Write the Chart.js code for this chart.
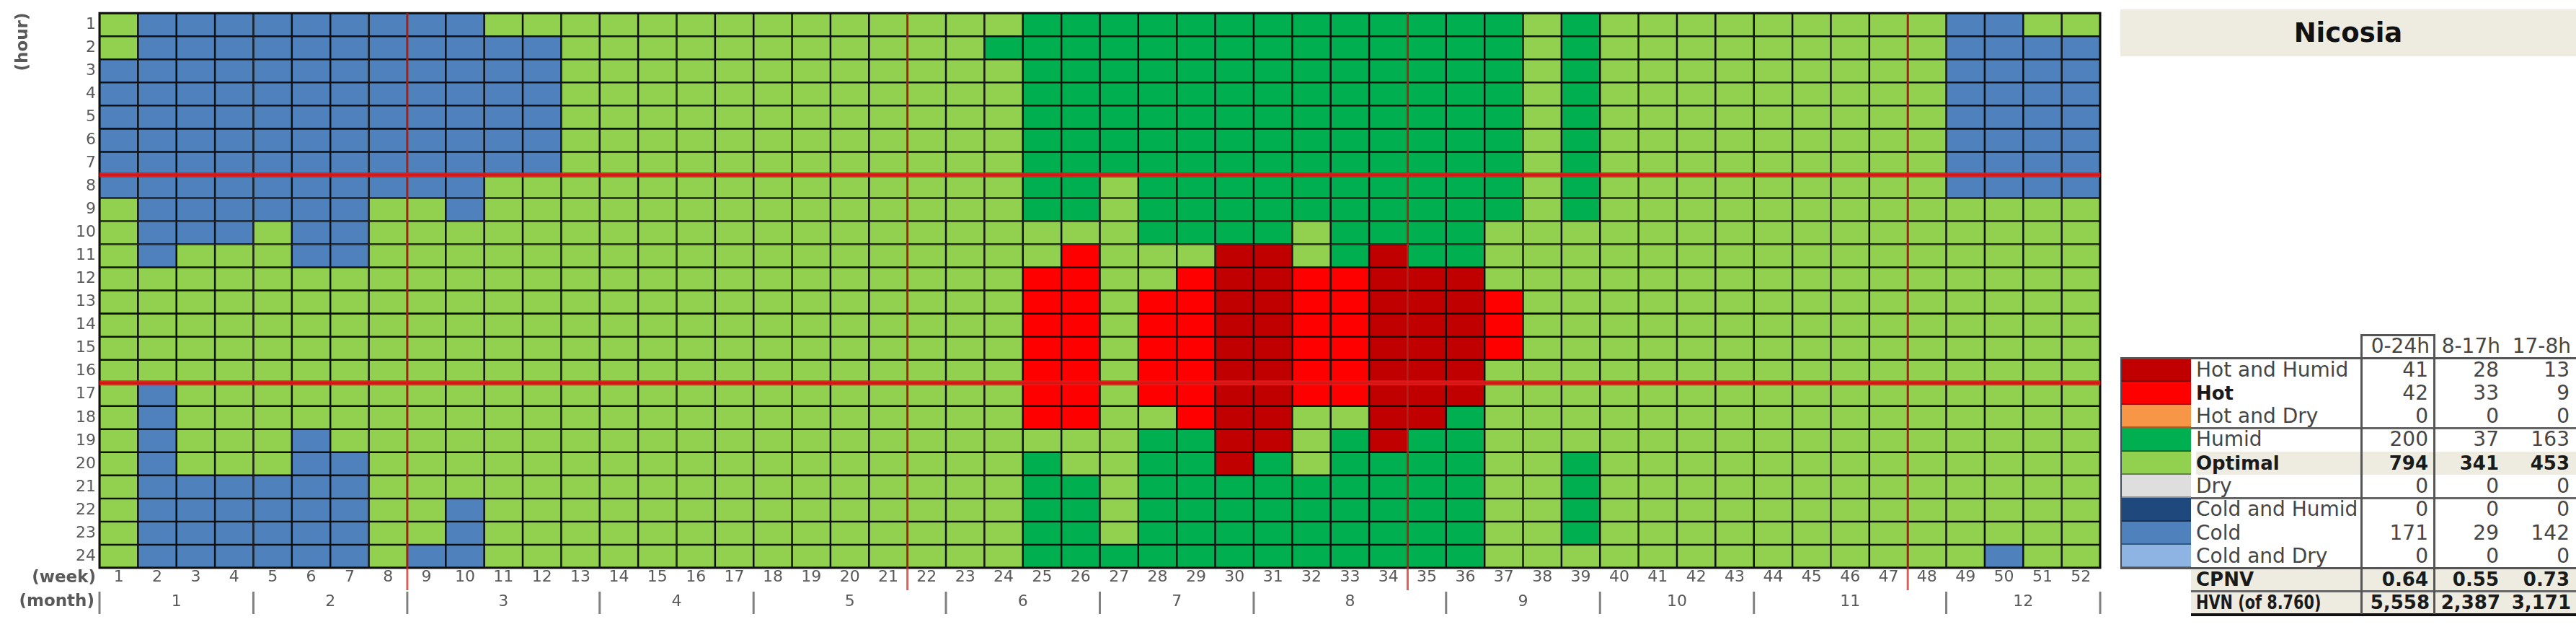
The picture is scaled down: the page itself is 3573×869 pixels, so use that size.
<!DOCTYPE html>
<html>
<head>
<meta charset="utf-8">
<script src="https://cdn.jsdelivr.net/npm/chart.js@4.4.1/dist/chart.umd.min.js"></script>
<style>
  html, body { margin: 0; padding: 0; background: #fff; }
  body { width: 3573px; height: 869px; position: relative; overflow: hidden; font-family: "DejaVu Sans", sans-serif; }
  #chart { position: absolute; left: 0; top: 0; }
  .abs { position: absolute; box-sizing: border-box; }
  .txt { white-space: nowrap; font-size: 28px; color: #454545; }
  .num { text-align: right; }
  .b { font-weight: bold; color: #1a1a1a; font-size: 26px; }
</style>
</head>
<body>
<canvas id="chart" width="2935" height="869"></canvas>
<div id="panel"></div>
<script>
// ---- data ----
const weeks = ['1','2','3','4','5','6','7','8','9','10','11','12','13','14','15','16','17','18','19','20',
  '21','22','23','24','25','26','27','28','29','30','31','32','33','34','35','36','37','38','39','40',
  '41','42','43','44','45','46','47','48','49','50','51','52'];
const hours = ['1','2','3','4','5','6','7','8','9','10','11','12','13','14','15','16','17','18','19','20','21','22','23','24'];
const months = ['1','2','3','4','5','6','7','8','9','10','11','12'];
// week index where each month starts (last entry = end of year)
const monthStarts = [0, 4, 8, 13, 17, 22, 26, 30, 35, 39, 43, 48, 52];
// red vertical markers (week boundaries) and horizontal markers (hour boundaries)
const weekMarks = [8, 21, 34, 47];
const hourMarks = [7, 16];

// one string per week, hours 1..24 (spaces only for reading)
// X hot+humid, H hot, R hot+dry, U humid, O optimal, D dry, K cold+humid, C cold, L cold+dry
const weekCells = [
  'OOCCCCCC OOOOOOOO OOOOOOOO', // 1
  'CCCCCCCC CCCOOOOO CCCCCCCC',
  'CCCCCCCC CCOOOOOO OOOOCCCC',
  'CCCCCCCC CCOOOOOO OOOOCCCC',
  'CCCCCCCC COOOOOOO OOOOCCCC', // 5
  'CCCCCCCC CCCOOOOO OOCCCCCC',
  'CCCCCCCC CCCOOOOO OOOCCCCC',
  'CCCCCCCC OOOOOOOO OOOOOOOO',
  'CCCCCCCC OOOOOOOO OOOOOOOC',
  'CCCCCCCC COOOOOOO OOOOOCCC', // 10
  'OCCCCCCO OOOOOOOO OOOOOOOO',
  'OCCCCCCO OOOOOOOO OOOOOOOO',
  'OOOOOOOO OOOOOOOO OOOOOOOO',
  'OOOOOOOO OOOOOOOO OOOOOOOO',
  'OOOOOOOO OOOOOOOO OOOOOOOO', // 15
  'OOOOOOOO OOOOOOOO OOOOOOOO',
  'OOOOOOOO OOOOOOOO OOOOOOOO',
  'OOOOOOOO OOOOOOOO OOOOOOOO',
  'OOOOOOOO OOOOOOOO OOOOOOOO',
  'OOOOOOOO OOOOOOOO OOOOOOOO', // 20
  'OOOOOOOO OOOOOOOO OOOOOOOO',
  'OOOOOOOO OOOOOOOO OOOOOOOO',
  'OOOOOOOO OOOOOOOO OOOOOOOO',
  'OUOOOOOO OOOOOOOO OOOOOOOO',
  'UUUUUUUU UOOHHHHH HHOUUUUU', // 25
  'UUUUUUUU UOHHHHHH HHOOUUUU',
  'UUUUUUUO OOOOOOOO OOOOOOOU',
  'UUUUUUUU UUOOHHHH HOUUUUUU',
  'UUUUUUUU UUOHHHHH HHUUUUUU',
  'UUUUUUUU UUXXXXXX XXXXUUUU', // 30
  'UUUUUUUU UUXXXXXX XXXUUUUU',
  'UUUUUUUU UOOHHHHH HOOOUUUU',
  'UUUUUUUU UUUHHHHH HOUUUUUU',
  'UUUUUUUU UUXXXXXX XXXUUUUU',
  'UUUUUUUU UUUXXXXX XXUUUUUU', // 35
  'UUUUUUUU UUUXXXXX XUUUUUUU',
  'UUUUUUUU UOOOHHHO OOOOOOOO',
  'OOOOOOOO OOOOOOOO OOOOOOOO',
  'UUUUUUUU UOOOOOOO OOOUUUUO',
  'OOOOOOOO OOOOOOOO OOOOOOOO', // 40
  'OOOOOOOO OOOOOOOO OOOOOOOO',
  'OOOOOOOO OOOOOOOO OOOOOOOO',
  'OOOOOOOO OOOOOOOO OOOOOOOO',
  'OOOOOOOO OOOOOOOO OOOOOOOO',
  'OOOOOOOO OOOOOOOO OOOOOOOO', // 45
  'OOOOOOOO OOOOOOOO OOOOOOOO',
  'OOOOOOOO OOOOOOOO OOOOOOOO',
  'OOOOOOOO OOOOOOOO OOOOOOOO',
  'CCCCCCCC OOOOOOOO OOOOOOOO',
  'CCCCCCCC OOOOOOOO OOOOOOOC', // 50
  'OCCCCCCC OOOOOOOO OOOOOOOO',
  'OCCCCCCC OOOOOOOO OOOOOOOO'
].map(s => s.replace(/ /g, ''));

// legend / summary table
const catCodes  = ['X', 'H', 'R', 'U', 'O', 'D', 'K', 'C', 'L'];
const catNames  = ['Hot and Humid', 'Hot', 'Hot and Dry', 'Humid', 'Optimal', 'Dry', 'Cold and Humid', 'Cold', 'Cold and Dry'];
const catColors = ['#C00000', '#FF0000', '#F79646', '#00B050', '#92D050', '#DEDEDE', '#1F497D', '#4F81BD', '#8DB4E2'];
const boldCats  = ['Hot', 'Optimal'];
const colHeads  = ['0-24h', '8-17h', '17-8h'];
const hours0to24 = [41, 42, 0, 200, 794, 0, 0, 171, 0];
const hours8to17 = [28, 33, 0, 37, 341, 0, 0, 29, 0];
const hours17to8 = [13, 9, 0, 163, 453, 0, 0, 142, 0];
const cpnv = ['0.64', '0.55', '0.73'];
const hvn  = ['5,558', '2,387', '3,171'];
const city = 'Nicosia';

const colorOf = {};
catCodes.forEach((c, i) => colorOf[c] = catColors[i]);

const FONT = '"DejaVu Sans", sans-serif';
const GREY = '#595959';

// one stacked dataset per hour, every week gets one cell
const datasets = hours.map((h, hi) => ({
  label: 'hour ' + h,
  data: weeks.map(() => 1),
  backgroundColor: weekCells.map(col => colorOf[col[hi]]),
  borderColor: '#111',
  borderWidth: 1.6,
  borderSkipped: false,
  barPercentage: 1,
  categoryPercentage: 1,
  stack: 'hours'
}));

const overlay = {
  id: 'overlay',
  afterDatasetsDraw(chart) {
    const { ctx, chartArea: a, scales: { y } } = chart;
    const colW = (a.right - a.left) / weeks.length;
    const bx = k => a.left + k * colW;
    ctx.save();
    // frame
    ctx.strokeStyle = '#111';
    ctx.lineWidth = 3;
    ctx.strokeRect(a.left, a.top, a.right - a.left, a.bottom - a.top);
    // red week markers
    ctx.strokeStyle = 'rgba(215,40,30,0.75)';
    ctx.lineWidth = 3;
    weekMarks.forEach(k => {
      ctx.beginPath();
      ctx.moveTo(bx(k), a.top);
      ctx.lineTo(bx(k), a.bottom + 31);
      ctx.stroke();
    });
    // red hour markers
    ctx.strokeStyle = 'rgba(230,25,25,0.9)';
    ctx.lineWidth = 7;
    hourMarks.forEach(h => {
      const py = y.getPixelForValue(h);
      ctx.beginPath();
      ctx.moveTo(a.left, py);
      ctx.lineTo(a.right, py);
      ctx.stroke();
    });
    // month ticks + labels
    const my = 834;
    ctx.strokeStyle = '#808080';
    ctx.lineWidth = 3;
    monthStarts.forEach(k => {
      ctx.beginPath();
      ctx.moveTo(bx(k), my - 14);
      ctx.lineTo(bx(k), my + 17);
      ctx.stroke();
    });
    ctx.fillStyle = GREY;
    ctx.font = '22px ' + FONT;
    ctx.textAlign = 'center';
    ctx.textBaseline = 'middle';
    months.forEach((m, i) => {
      ctx.fillText(m, bx((monthStarts[i] + monthStarts[i + 1]) / 2), my);
    });
    // axis captions
    ctx.font = 'bold 23px ' + FONT;
    ctx.textAlign = 'right';
    ctx.fillText('(week)', a.left - 5, 801);
    ctx.fillText('(month)', a.left - 7, my);
    ctx.save();
    ctx.translate(32, 58);
    ctx.rotate(-Math.PI / 2);
    ctx.textAlign = 'center';
    ctx.fillText('(hour)', 0, 0);
    ctx.restore();
    ctx.restore();
  }
};

new Chart(document.getElementById('chart'), {
  type: 'bar',
  data: { labels: weeks, datasets: datasets },
  options: {
    responsive: false,
    animation: false,
    devicePixelRatio: 1,
    layout: { padding: { top: 12, right: 22, left: 0, bottom: 0 } },
    plugins: { legend: { display: false }, tooltip: { enabled: false } },
    scales: {
      x: {
        stacked: true,
        grid: { display: false, drawTicks: false },
        border: { display: false },
        ticks: { color: GREY, font: { family: FONT, size: 22 }, padding: 0, autoSkip: false, maxRotation: 0 },
        afterFit: s => { s.height = 82; }
      },
      y: {
        stacked: true,
        min: 0,
        max: 24,
        reverse: true,
        grid: { display: false, drawTicks: false },
        border: { display: false },
        afterBuildTicks: s => { s.ticks = hours.map((h, i) => ({ value: i + 0.5 })); },
        ticks: {
          autoSkip: false,
          padding: 5,
          color: GREY,
          font: { family: FONT, size: 22 },
          callback: v => hours[Math.round(v - 0.5)]
        },
        afterFit: s => { s.width = 138; }
      }
    }
  },
  plugins: [overlay]
});

// ---- legend panel (right side) ----
const panel = document.getElementById('panel');
function box(l, t, w, h, style, text, cls) {
  const d = document.createElement('div');
  d.className = 'abs' + (cls ? ' ' + cls : '');
  Object.assign(d.style, { left: l + 'px', top: t + 'px', width: w + 'px', height: h + 'px' }, style || {});
  if (text !== undefined) d.textContent = text;
  panel.appendChild(d);
  return d;
}

const PL = 2941, PR = 3573;
box(PL, 13, PR - PL, 65, { background: '#EEECE1', textAlign: 'center', lineHeight: '65px',
  fontSize: '37px', fontWeight: 'bold', color: '#111' }, city);

const rowH = 32.29, top0 = 496.5, headTop = 464;
const swR = 3039, labL = 3046;
const colL = [3275, 3376, 3474], colR = [3376, 3474, 3572];
const rowTop = i => top0 + i * rowH;

// beige rows
box(labL, rowTop(4), PR - labL, rowH, { background: '#EEECE1' });
box(swR, rowTop(9), PR - swR, rowH * 2, { background: '#EEECE1' });

// header
colHeads.forEach((t, j) => box(colL[j], headTop, colR[j] - colL[j] - 6, rowH,
  { lineHeight: rowH + 'px' }, t, 'txt num'));

// category rows
catNames.forEach((n, i) => {
  box(PL, rowTop(i), swR - PL, rowH, { background: catColors[i], borderBottom: '2px solid rgba(0,0,0,0.35)' });
  const bold = boldCats.includes(n);
  box(labL, rowTop(i), 225, rowH, { lineHeight: rowH + 'px' }, n, 'txt' + (bold ? ' b' : ''));
  [hours0to24, hours8to17, hours17to8].forEach((arr, j) => {
    box(colL[j], rowTop(i), colR[j] - colL[j] - 8, rowH, { lineHeight: rowH + 'px' },
      String(arr[i]), 'txt num' + (n === 'Optimal' ? ' b' : ''));
  });
});
box(PL, rowTop(0), 2, rowH * 9, { background: '#3f4f5f' });

// summary rows
box(labL, rowTop(9), 225, rowH, { lineHeight: rowH + 'px' }, 'CPNV', 'txt b');
box(labL, rowTop(10), 230, rowH, { lineHeight: rowH + 'px', transform: 'scaleX(0.8)', transformOrigin: 'left center' },
  'HVN (of 8.760)', 'txt b');
cpnv.forEach((v, j) => box(colL[j], rowTop(9), colR[j] - colL[j] - 8, rowH, { lineHeight: rowH + 'px' }, v, 'txt num b'));
hvn.forEach((v, j) => box(colL[j], rowTop(10), colR[j] - colL[j] - 6, rowH, { lineHeight: rowH + 'px' }, v, 'txt num b'));

// rules
const rule = (l, t, w, h, c) => box(l, t, w, h, { background: c });
rule(colL[0], headTop - 1, colR[0] - colL[0], 3, '#555');
rule(PL, top0 - 2, PR - PL, 3, '#555');
rule(swR, rowTop(3) - 1.5, PR - swR, 3, '#666');
rule(swR, rowTop(6) - 1.5, PR - swR, 3, '#666');
rule(PL, rowTop(9) - 1.5, PR - PL, 3, '#555');
rule(swR, rowTop(10) - 1.5, PR - swR, 3, '#666');
rule(swR, rowTop(11) - 2, PR - swR, 4, '#111');
rule(colL[0] - 1.5, headTop - 1, 3, rowTop(11) - headTop, '#555');
rule(colR[0] - 1.5, headTop - 1, 3, rowTop(11) - headTop, '#555');
</script>
</body>
</html>
